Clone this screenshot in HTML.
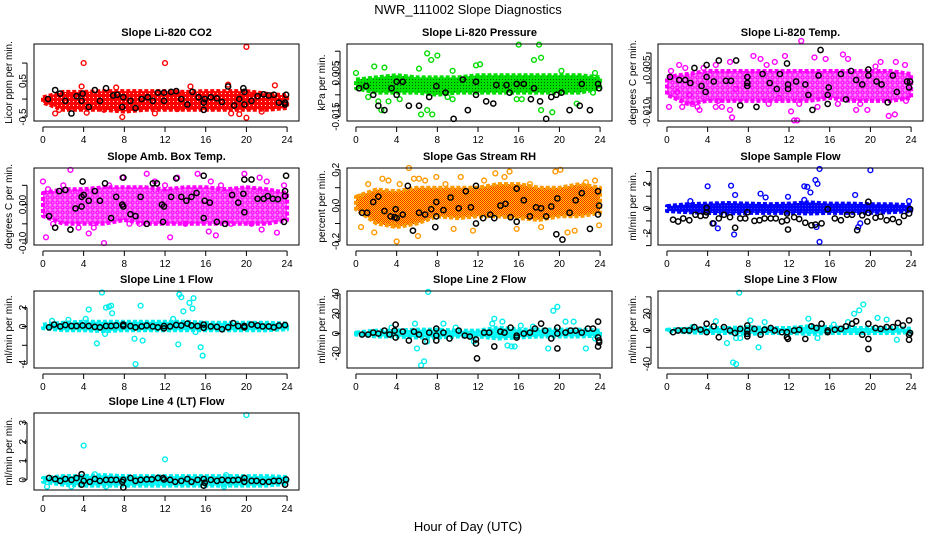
<!DOCTYPE html>
<html><head><meta charset="utf-8"><style>
html,body{margin:0;padding:0;background:#fff}
svg{display:block;font-family:"Liberation Sans",sans-serif}
</style></head><body>
<svg id="chart" width="936" height="540" viewBox="0 0 936 540">
<defs>
<pattern id="pat-red" width="4" height="4" patternUnits="userSpaceOnUse"><rect width="4" height="4" fill="#ff0000"/><rect x="1" y="1" width="1" height="1" fill="#ffffff"/></pattern>
<pattern id="pat-green" width="3" height="3" patternUnits="userSpaceOnUse"><rect width="3" height="3" fill="#00e000"/><rect x="1" y="1" width="1" height="1" fill="#006000"/></pattern>
<pattern id="pat-magenta" width="5" height="5" patternUnits="userSpaceOnUse"><rect width="5" height="5" fill="#ff80ff"/><circle cx="2.5" cy="2.5" r="1.6" fill="none" stroke="#ff00ff" stroke-width="1.2"/></pattern>
<pattern id="pat-rh" width="2" height="2" patternUnits="userSpaceOnUse"><rect width="2" height="2" fill="#ffd700"/><rect width="1" height="1" fill="#ff2000"/><rect x="1" y="1" width="1" height="1" fill="#ff2000"/></pattern>
<pattern id="pat-blue" width="3" height="3" patternUnits="userSpaceOnUse"><rect width="3" height="3" fill="#0000ff"/><rect x="1" y="1" width="1" height="1" fill="#4040ff"/></pattern>
<pattern id="pat-cyan" width="3" height="3" patternUnits="userSpaceOnUse"><rect width="3" height="3" fill="#00ffff"/><rect x="1" y="1" width="1" height="1" fill="#40e0e0"/></pattern>
</defs>
<text x="468" y="14" text-anchor="middle" font-size="13">NWR_111002  Slope Diagnostics</text>
<text x="468" y="531" text-anchor="middle" font-size="13">Hour of Day (UTC)</text>
</svg>
<script>
// ---- data (hour of day on x) ----
const bandHours = [0,2,4,6,8,10,12,14,16,18,20,22,24];
const xTicks = [0,4,8,12,16,20,24];
// Panel 1 CO2
const co2Lo = [-0.1,-0.3,-0.3,-0.3,-0.35,-0.3,-0.3,-0.3,-0.3,-0.3,-0.3,-0.3,-0.25];
const co2Hi = [0.05,0.2,0.2,0.22,0.22,0.22,0.22,0.2,0.22,0.22,0.22,0.15,0.1];
const co2Pts = [[4,1.0],[12,1.0],[20,1.45],[1.2,-0.4],[4.3,-0.38],[7.8,-0.5],[11,-0.4],[18.5,-0.4],[19.3,-0.42],[20,-0.52],[22.8,0.38],[18.2,0.4],[14.5,0.35],[3.8,0.35],[7.2,0.32],[1.6,-0.3],[6,-0.3],[13.2,-0.28],[21.5,-0.35]];
const co2Blk = [[0.5,0],[1.2,0.25],[1.7,0.15],[2.2,-0.05],[2.8,-0.4],[3.3,0.08],[3.9,0.15],[3.8,-0.05],[4.5,-0.22],[5.1,0.25],[5.6,-0.05],[6.2,0.3],[6.9,0.1],[7.3,0.12],[7.9,0.05],[7.8,-0.22],[8.6,-0.05],[9.1,-0.25],[9.7,0],[10.3,0.05],[10.8,-0.05],[11.3,0.18],[11.9,0.18],[11.9,-0.05],[12.6,0.2],[13.1,0.22],[13.6,0],[14.2,-0.15],[14.7,0.2],[15.3,0.05],[15.8,-0.1],[15.8,-0.3],[15.9,0],[16.5,0.05],[17.1,0.02],[17.6,-0.08],[18.2,0.35],[18.8,-0.18],[19.3,0],[19.7,0.3],[19.8,-0.15],[19.8,0.2],[20.5,-0.05],[21.1,0.08],[21.7,0.13],[22.2,0.1],[22.7,0.12],[23.2,-0.1],[23.8,-0.1],[23.9,0.12],[23.8,-0.15]];
// Panel 2 Pressure
const prsLo = [-0.002,-0.004,-0.004,-0.004,-0.005,-0.004,-0.004,-0.004,-0.004,-0.004,-0.004,-0.004,-0.002];
const prsHi = [0.002,0.003,0.004,0.003,0.003,0.003,0.004,0.004,0.004,0.004,0.004,0.004,0.003];
const prsPts = [[0,0.005],[1.8,0.008],[2.8,0.0075],[6.2,0.007],[7,0.014],[7.4,0.011],[8,0.013],[9.5,0.006],[16,0.018],[18,0.018],[17.5,0.011],[18.2,0.012],[20.2,0.006],[23.5,0.005],[11.8,0.0085],[12.2,0.009],[1.2,-0.006],[2.2,-0.008],[2.5,-0.012],[3.2,-0.008],[4.3,-0.007],[6.4,-0.014],[7,-0.012],[7.5,-0.014],[9,-0.006],[9.5,-0.007],[15.8,-0.007],[16.3,-0.007],[18.2,-0.012],[19.3,-0.013],[21.7,-0.009],[23.3,-0.004]];
const prsBlk = [[0.3,-0.002],[1,-0.001],[1.7,-0.005],[2.2,-0.01],[2.8,-0.012],[3.5,-0.002],[4,-0.005],[4,0.001],[4.6,0.001],[5.2,-0.01],[6.2,-0.01],[7.2,-0.006],[7.9,-0.001],[8.8,-0.004],[9.6,-0.016],[10.5,0.002],[11,-0.012],[11.8,0.001],[11.8,-0.005],[12.8,-0.008],[13.5,-0.009],[13.8,-0.0005],[14.8,-0.0005],[15.1,-0.004],[15.8,0],[16.5,0],[17.2,-0.007],[17.5,-0.002],[18.1,-0.008],[18.7,-0.016],[19.2,-0.006],[19.7,-0.005],[20.2,-0.004],[21,-0.012],[22,-0.01],[22.2,0],[23,-0.012],[23.8,0],[23.9,-0.002]];
// Panel 3 Li-820 Temp
const tmpLo = [-0.004,-0.007,-0.006,-0.006,-0.006,-0.006,-0.006,-0.006,-0.005,-0.006,-0.006,-0.006,-0.005];
const tmpHi = [0.002,0.003,0.004,0.004,0.004,0.004,0.004,0.004,0.004,0.004,0.004,0.004,0.003];
const tmpPts = [[0.2,-0.008],[1,-0.003],[1.5,-0.008],[2.5,-0.007],[3,-0.008],[3.2,-0.009],[4.8,-0.008],[5.4,-0.008],[6.4,-0.0115],[6.2,-0.009],[8.5,0.009],[9.2,0.008],[10.6,0.007],[11.6,0.009],[12.5,-0.0125],[12.8,-0.0125],[13.2,0.014],[12.2,-0.0095],[14.5,0.0085],[15.6,0.008],[16.8,-0.007],[17.3,0.0095],[17.8,0.008],[18.6,-0.009],[19.7,-0.009],[21.8,-0.011],[22.4,-0.0105],[22.5,0.007],[23.4,0.006],[1.2,0.006],[1.8,0.005],[3.6,0.005],[4.8,0.006],[6.2,0.007],[9.8,0.006],[21,0.007],[2.2,-0.004],[5,-0.006],[10,-0.007],[13,-0.007],[19,-0.007],[23.5,-0.006],[0.4,0.004],[6.8,-0.002],[11,-0.005],[14.8,-0.008],[20.5,0.0055]];
const tmpBlk = [[0.3,0.002],[1.2,0.001],[1.8,0.001],[2.3,0],[2.7,0.005],[3.4,-0.001],[3.9,0.002],[3.9,0.006],[3.8,-0.003],[4.6,0.0005],[5.1,0.0075],[5.8,0.0007],[6.3,0.0007],[6.8,0.0075],[7.2,-0.0075],[7.9,0],[7.9,0.002],[7.9,-0.001],[8.8,-0.008],[9.4,0.003],[10.1,0],[10.8,-0.002],[11.1,0.003],[11.8,0.0065],[11.9,-0.0005],[11.9,-0.002],[12.7,0.0005],[13.6,-0.0005],[13.9,-0.004],[14.3,-0.009],[14.9,0.0025],[15.1,0.011],[15.8,-0.004],[15.9,-0.0015],[15.8,-0.007],[17.1,0.003],[17.6,-0.0055],[18.1,0.004],[18.6,0.001],[19.2,-0.0005],[19.8,0.0025],[19.8,0.0045],[20.6,0.0005],[21.1,-0.0005],[21.7,-0.0065],[22.2,0.0025],[22.6,-0.003],[23.6,0.0005],[23.8,-0.0015],[23.9,0.0005]];
// Panel 4 Amb box temp
const ambLo = [-0.03,-0.05,-0.05,-0.05,-0.04,-0.05,-0.05,-0.05,-0.05,-0.05,-0.05,-0.05,-0.04];
const ambHi = [0.03,0.04,0.04,0.045,0.045,0.045,0.04,0.045,0.045,0.04,0.045,0.04,0.03];
const ambPts = [[0,0.06],[0.3,-0.085],[0.5,0.04],[2.7,0.09],[4.5,-0.075],[5,-0.06],[6,-0.1],[7.8,0.07],[10.2,0.08],[11,0.06],[12.5,-0.085],[13.2,0.07],[15.2,0.08],[16.3,-0.07],[16.5,0.06],[17,-0.08],[19.8,0.08],[21.3,0.07],[21.5,-0.065],[23,-0.073],[22,0.06],[1,-0.05],[3.5,-0.06],[8.5,-0.05],[9.5,-0.05],[14,-0.05],[18.5,-0.05],[20.5,-0.05],[2,0.05],[6.5,0.05],[12,0.05],[17.5,0.05],[23.7,0.05]];
const ambBlk = [[0.6,-0.03],[1.2,-0.06],[1.6,0.035],[2.2,0.038],[2.7,-0.065],[3.2,-0.01],[3.8,0.02],[3.9,0.06],[3.8,-0.005],[4,0.025],[4.5,0.01],[5.1,0.035],[5.6,0.01],[6.1,0.055],[6.7,-0.035],[7.2,0.02],[7.8,0],[7.9,-0.005],[7.9,0.07],[8.6,-0.025],[9.1,-0.03],[9.6,0.02],[10.2,-0.05],[10.8,0.055],[11.2,0.055],[11.7,0],[11.8,-0.045],[11.9,-0.005],[12.6,0.02],[13.1,0.068],[13.6,0.02],[14.1,0.01],[14.6,0.02],[15.1,0.03],[15.8,0.075],[15.8,-0.035],[15.9,0.01],[16.4,0.005],[17.1,-0.045],[17.9,-0.05],[18.6,0.025],[19.2,0.005],[19.8,0.065],[19.7,0.028],[19.8,-0.02],[20.5,0.065],[21.1,0.015],[21.7,0.015],[22.1,0.022],[22.6,0.015],[23.1,0.014],[23.7,-0.045],[23.8,0.035],[23.9,0.075],[23.8,0.022]];
// Panel 5 Gas stream RH
const rhLo = [-0.02,-0.1,-0.12,-0.1,-0.06,-0.07,-0.06,-0.06,-0.07,-0.08,-0.06,-0.06,-0.04];
const rhHi = [0.05,0.09,0.08,0.1,0.1,0.1,0.1,0.12,0.12,0.1,0.1,0.12,0.1];
const rhPts = [[0.4,0.05],[0.5,-0.12],[1.2,0.12],[1.8,-0.15],[2.6,0.15],[3.2,0.14],[3.7,-0.11],[4,-0.2],[4.3,0.12],[5.2,0.21],[5.7,0.15],[6.1,-0.17],[6.2,0.15],[6.8,0.14],[7.9,0.16],[8.8,0.12],[9.6,-0.13],[10.3,0.16],[11.5,-0.14],[12.6,0.14],[13.7,0.18],[14.6,0.16],[15.1,0.19],[15.8,-0.13],[17.1,0.12],[18.2,-0.12],[19.6,0.19],[20.1,0.2],[20.8,-0.15],[21.5,-0.14],[22.6,0.13],[23.5,0.14],[23.9,-0.11]];
const rhBlk = [[0.6,-0.04],[1.1,-0.04],[1.7,0.02],[2.2,0.05],[2.8,-0.03],[3.4,-0.06],[3.8,-0.065],[3.9,-0.02],[4,-0.07],[4.6,-0.05],[5.1,0.11],[5.6,-0.14],[6.2,-0.04],[6.8,-0.05],[7.4,-0.02],[7.9,-0.06],[7.9,0.02],[7.8,-0.12],[8.6,-0.025],[9.3,0.045],[10.1,-0.015],[10.8,0.08],[11.3,-0.01],[11.8,0.11],[11.8,-0.1],[12.5,-0.07],[13.2,-0.05],[13.6,-0.07],[14.2,0],[14.7,0.01],[15.2,-0.065],[15.8,-0.09],[15.8,0.095],[16.5,0.03],[17.1,-0.06],[17.7,-0.01],[18.2,-0.015],[18.7,-0.06],[19.2,-0.005],[19.7,-0.16],[19.8,0.04],[20.3,-0.19],[21,-0.04],[21.6,0.03],[22.2,0.07],[23,-0.13],[23.8,0.08],[23.9,0],[23.8,-0.05]];
// Panel 6 Sample flow
const sfLo = [-0.2,-0.3,-0.35,-0.4,-0.35,-0.35,-0.35,-0.4,-0.35,-0.35,-0.35,-0.3,-0.2];
const sfHi = [0.2,0.35,0.4,0.45,0.4,0.35,0.4,0.5,0.4,0.4,0.35,0.35,0.25];
const sfPts = [[4,1.8],[6.3,1.85],[6.7,1.1],[9.2,1.2],[9.7,0.9],[11.9,0.95],[13.5,1.8],[13.8,1.75],[14.1,1.3],[14.6,2.3],[14.8,2.0],[15,3.2],[20,3.1],[18.5,1.1],[4.6,-1.2],[5,-1.6],[6.6,-2.1],[14.7,-1.5],[15,-2.7],[18.8,-1.5],[19,-1.2],[13.5,0.7],[23.8,0.6],[2.3,0.6]];
const sfBlk = [[0.6,-0.9],[1.1,-1.05],[1.6,-0.8],[2.2,-0.95],[2.8,-0.5],[3.3,-0.6],[3.8,-0.55],[3.9,-0.3],[3.9,0.05],[4.5,-1.2],[5.1,-0.8],[5.6,-0.5],[6.2,-0.7],[6.7,-1.55],[7.2,-0.8],[7.7,-0.8],[7.9,-0.3],[8.6,-1.0],[9.1,-0.95],[9.6,-0.8],[10.2,-0.8],[10.7,-0.8],[11.3,-1.05],[11.8,-0.95],[11.8,-0.4],[11.9,-1.7],[12.5,-0.7],[13,-0.85],[13.6,-1.15],[14.2,-1.35],[14.6,-1.3],[15.2,-1.2],[15.8,-0.05],[16.5,-0.8],[17.1,-0.95],[17.7,-0.5],[18.2,-0.5],[18.7,-1.75],[19.2,-0.55],[19.7,-1.05],[19.8,0.55],[19.8,-0.35],[20.5,-0.75],[21,-0.65],[21.6,-0.95],[22.2,-0.85],[22.8,-1.1],[23.3,-0.6],[23.8,-0.4],[23.9,-0.05]];
// Panel 7 Line 1 flow
const l1Lo = [-0.2,-0.4,-0.4,-0.5,-0.4,-0.4,-0.4,-0.4,-0.4,-0.4,-0.4,-0.4,-0.3];
const l1Hi = [0.2,0.4,0.5,0.5,0.5,0.5,0.5,0.5,0.4,0.4,0.4,0.4,0.3];
const l1Pts = [[4.5,1.8],[5.8,3.6],[6.2,2.0],[6.5,2.1],[6.7,2.2],[6.8,1.4],[9.6,2.2],[13.4,3.4],[13.6,3.1],[13.8,1.6],[14.4,2.5],[14.8,3.0],[14.7,1.9],[5.3,-1.8],[9,-1.3],[9.8,-1.5],[9.1,-4.0],[13.3,-1.9],[15.5,-2.2],[15.7,-3.1],[0.9,0.6],[2.5,0.7],[4.2,0.8],[12.8,0.8],[15,-0.6],[6.1,-0.8]];
const l1Blk = [[0.6,-0.1],[1.1,0.2],[1.7,0],[2.2,0.15],[2.8,0.05],[3.3,0.05],[3.9,0.1],[4.5,0.05],[5.1,-0.05],[5.6,-0.1],[6.2,0.05],[6.7,0.05],[7.2,0.1],[7.9,0.05],[7.9,0.2],[8.6,0.05],[9.1,-0.1],[9.7,0],[10.2,0.1],[10.8,0],[11.3,-0.1],[11.9,0.05],[11.9,-0.2],[12.5,0],[13.1,0.15],[13.6,0.1],[14.2,0.3],[14.6,0.1],[15.2,0.05],[15.8,0.2],[15.8,-0.15],[16.5,0],[17.1,-0.05],[17.6,-0.3],[18.2,-0.1],[18.7,0.35],[19.2,0.05],[19.8,0.05],[19.8,-0.1],[20.5,0.2],[21.1,0.1],[21.6,0],[22.2,0],[22.7,-0.1],[23.2,0.1],[23.8,0.15]];
// Panel 8 Line 2 flow
const l2Lo = [-1,-3,-3,-4,-4,-3,-3,-5,-4,-3,-3,-3,-2];
const l2Hi = [1,3,3,4,4,3,3,6,4,4,4,4,3];
const l2Pts = [[7.1,42],[6.4,-32],[6.7,-28],[6,-15],[7,-8],[8.6,10],[13.6,15],[13.4,10],[14.4,12],[14.9,-12],[15.3,-13],[15.6,-13],[18.9,-15],[19.4,23],[19.8,27],[20.6,12],[21.4,12],[22.6,-15],[16.2,8],[17.4,7],[5.8,10],[3.5,6],[9.8,6],[11.6,-8],[23.5,-5]];
const l2Blk = [[0.6,-1],[1.2,-1],[1.7,1],[2.2,0],[2.8,3],[3.3,-1],[3.9,9],[3.9,-4],[3.8,3],[4.6,2],[5.2,-7],[5.7,2],[6.2,-1],[6.8,-8],[7.2,1],[7.9,-7],[7.9,5],[7.9,-2],[8.6,1],[9.2,-5],[10.1,3],[10.7,-2],[11.2,-3],[11.8,-10],[11.8,-6],[11.9,-25],[12.6,1],[13.1,1],[13.6,-13],[14.2,2],[14.6,1],[15.2,6],[15.8,-2],[15.8,-4],[16.5,0],[17.1,1],[17.6,5],[18.2,10],[18.6,3],[19.2,-5],[19.8,-15],[19.8,6],[19.8,0],[20.6,1],[21.1,3],[21.6,3],[22.2,1],[22.8,5],[23.3,5],[23.8,12],[23.8,-4],[23.9,-7],[23.8,-13],[23.9,-9]];
// Panel 9 Line 3 flow
const l3Lo = [-1,-2,-3,-3,-4,-3,-3,-4,-3,-3,-3,-3,-2];
const l3Hi = [1,2,3,3,4,3,3,5,4,3,3,3,2];
const l3Pts = [[7.1,45],[6.5,-38],[6.8,-40],[5.9,-15],[6.8,-9],[7.2,-9],[8.2,12],[9,-20],[9.6,10],[4.8,11],[13.9,14],[14.8,-9],[17.8,10],[18.4,20],[18.9,24],[19.3,31],[20.7,15],[21.6,13],[22.6,-11],[16.4,7],[11.7,-3],[2.5,4]];
const l3Blk = [[0.6,-2],[1.1,0],[1.7,0],[2.2,0],[2.7,4],[3.3,1],[3.9,8],[3.9,-2],[4.6,5],[5.1,-8],[5.6,4],[6.2,0],[6.7,-3],[7.2,2],[7.9,-7],[7.9,6],[7.9,-4],[7.9,0],[8.6,2],[9.2,-5],[9.6,1],[10.2,3],[10.6,0],[11.3,-2],[11.8,-2],[11.8,-8],[11.9,-10],[12.5,0],[13,1],[13.6,-10],[14.2,5],[14.7,3],[15.2,8],[15.8,0],[15.8,-2],[16.5,1],[17.1,2],[17.6,5],[18.2,8],[18.6,11],[19.2,-5],[19.8,-22],[19.8,8],[19.8,-10],[20.5,3],[21,2],[21.6,4],[22.2,4],[22.7,9],[23.2,6],[23.8,12],[23.8,-5],[23.9,-3],[23.8,-11]];
// Panel 10 Line 4 (LT) flow
const l4Lo = [-0.1,-0.25,-0.3,-0.3,-0.3,-0.3,-0.3,-0.3,-0.3,-0.3,-0.3,-0.3,-0.2];
const l4Hi = [0.1,0.2,0.2,0.25,0.2,0.2,0.2,0.2,0.2,0.2,0.2,0.2,0.15];
const l4Pts = [[4,1.8],[12,1.08],[20,3.4],[18,0.25],[5.1,0.3],[0.4,-0.35],[2.8,-0.35],[6.2,-0.35],[17.8,-0.35]];
const l4Blk = [[0.6,0.1],[1.2,0.05],[1.7,-0.05],[2.2,0.05],[2.8,0],[3.3,0.1],[3.8,0.3],[3.8,-0.25],[4,-0.05],[4.6,-0.1],[5.1,0.05],[5.6,-0.05],[6.2,0],[6.7,0],[7.2,0],[7.8,-0.1],[7.9,-0.4],[7.9,0],[8.6,0.1],[9.1,-0.05],[9.6,0],[10.2,0.03],[10.7,0.03],[11.3,0.1],[11.8,0.1],[11.9,0.02],[12.5,0],[13,-0.1],[13.6,-0.05],[14.2,0.05],[14.6,-0.1],[15.2,0],[15.8,0.05],[15.8,-0.3],[15.9,-0.15],[16.5,0],[17.1,-0.05],[17.6,0],[18.2,-0.02],[18.7,-0.02],[19.2,0],[19.8,0.1],[19.8,-0.1],[20.5,-0.05],[21,-0.05],[21.6,-0.1],[22.2,-0.1],[22.7,-0.05],[23.2,-0.05],[23.8,-0.25],[23.9,0.02]];

// ---- layout ----
const svg = document.getElementById('chart');
const NS = 'http://www.w3.org/2000/svg';
const colX = [34, 347, 658];
const rowY = [44, 168, 291, 413];
const boxW = 265, boxH = 77;
const xMin = -0.88, xMax = 25.17;

const panels = [
 {title:'Slope Li-820 CO2', ylab:'Licor ppm per min.', c:0, r:0, dmax:1.53, dmin:-0.61, ticks:[-0.5,0,0.5,1.0], labs:{'0.5':'0.5','-0.5':'-0.5'}, lo:co2Lo, hi:co2Hi, pts:co2Pts, blk:co2Blk, col:'#ff0000', fill:'url(#pat-red)'},
 {title:'Slope Li-820 Pressure', ylab:'kPa per min.', c:1, r:0, dmax:0.0183, dmin:-0.017, ticks:[-0.015,-0.01,-0.005,0,0.005,0.01,0.015], labs:{'0.005':'0.005','-0.015':'-0.015'}, lo:prsLo, hi:prsHi, pts:prsPts, blk:prsBlk, col:'#00dd00', fill:'url(#pat-green)'},
 {title:'Slope Li-820 Temp.', ylab:'degrees C per min.', c:2, r:0, dmax:0.013, dmin:-0.0127, ticks:[-0.01,-0.005,0,0.005,0.01], labs:{'0.005':'0.005','-0.01':'-0.010'}, lo:tmpLo, hi:tmpHi, pts:tmpPts, blk:tmpBlk, col:'#ff00ff', fill:'url(#pat-magenta)'},
 {title:'Slope Amb. Box Temp.', ylab:'degrees C per min.', c:0, r:1, dmax:0.095, dmin:-0.105, ticks:[-0.1,-0.05,0,0.05], labs:{'0':'0.00','-0.1':'-0.10'}, lo:ambLo, hi:ambHi, pts:ambPts, blk:ambBlk, col:'#ff00ff', fill:'url(#pat-magenta)'},
 {title:'Slope Gas Stream RH', ylab:'percent per min.', c:1, r:1, dmax:0.21, dmin:-0.22, ticks:[-0.2,-0.1,0,0.1,0.2], labs:{'0.2':'0.2','0':'0.0','-0.2':'-0.2'}, lo:rhLo, hi:rhHi, pts:rhPts, blk:rhBlk, col:'#ff9900', fill:'url(#pat-rh)'},
 {title:'Slope Sample Flow', ylab:'ml/min per min.', c:2, r:1, dmax:3.28, dmin:-2.95, ticks:[-3,-2,-1,0,1,2,3], labs:{'2':'2','0':'0','-2':'-2'}, lo:sfLo, hi:sfHi, pts:sfPts, blk:sfBlk, col:'#0000ff', fill:'url(#pat-blue)'},
 {title:'Slope Line 1 Flow', ylab:'ml/min per min.', c:0, r:2, dmax:3.76, dmin:-4.41, ticks:[-4,-2,0,2], labs:{'2':'2','0':'0','-4':'-4'}, lo:l1Lo, hi:l1Hi, pts:l1Pts, blk:l1Blk, col:'#00eeee', fill:'url(#pat-cyan)'},
 {title:'Slope Line 2 Flow', ylab:'ml/min per min.', c:1, r:2, dmax:42.9, dmin:-34.7, ticks:[-20,0,20,40], labs:{'40':'40','20':'20','0':'0','-20':'-20'}, lo:l2Lo, hi:l2Hi, pts:l2Pts, blk:l2Blk, col:'#00eeee', fill:'url(#pat-cyan)'},
 {title:'Slope Line 3 Flow', ylab:'ml/min per min.', c:2, r:2, dmax:47, dmin:-44.6, ticks:[-40,-20,0,20,40], labs:{'20':'20','0':'0','-40':'-40'}, lo:l3Lo, hi:l3Hi, pts:l3Pts, blk:l3Blk, col:'#00eeee', fill:'url(#pat-cyan)'},
 {title:'Slope Line 4 (LT) Flow', ylab:'ml/min per min.', c:0, r:3, dmax:3.51, dmin:-0.53, ticks:[0,1,2,3], labs:{'3':'3','2':'2','1':'1','0':'0'}, lo:l4Lo, hi:l4Hi, pts:l4Pts, blk:l4Blk, col:'#00eeee', fill:'url(#pat-cyan)'}
];

function mk(tag, attrs, parent){
  const e = document.createElementNS(NS, tag);
  for (const k in attrs) e.setAttribute(k, attrs[k]);
  (parent || svg).appendChild(e);
  return e;
}

panels.forEach((p, i) => {
  const L = colX[p.c], T = rowY[p.r];
  const xs = h => L + (h - xMin) / (xMax - xMin) * boxW;
  const ys = v => T + (p.dmax - v) / (p.dmax - p.dmin) * boxH;
  const g = mk('g', {});
  
  

  const title = mk('text', {x: L + boxW / 2, y: T - 8, 'text-anchor': 'middle', 'font-size': 11, 'font-weight': 'bold'}, g);
  title.textContent = p.title;
  
  

  // band
  let d = '';
  bandHours.forEach((h, k) => { d += (k ? 'L' : 'M') + xs(h).toFixed(1) + ',' + ys(p.hi[k]).toFixed(1); });
  for (let k = bandHours.length - 1; k >= 0; k--) d += 'L' + xs(bandHours[k]).toFixed(1) + ',' + ys(p.lo[k]).toFixed(1);
  const band = mk('path', {d: d + 'Z', fill: p.fill, stroke: p.col, 'stroke-width': 4, 'stroke-dasharray': '4 2', 'stroke-linejoin': 'round'}, g);
  
  

  p.pts.forEach(pt => {
    const c = mk('circle', {cx: xs(pt[0]), cy: ys(pt[1]), r: 2.4, fill: 'none', stroke: p.col, 'stroke-width': 1.4}, g);
    
    
  });
  p.blk.forEach(pt => {
    const c = mk('circle', {cx: xs(pt[0]), cy: ys(pt[1]), r: 2.6, fill: 'none', stroke: '#000', 'stroke-width': 1.5}, g);
    
    
  });

  const box = mk('rect', {x: L, y: T, width: boxW, height: boxH, fill: 'none', stroke: '#000', 'stroke-width': 1}, g);
  
  

  // x axis
  const ay = T + boxH + 6;
  const xl = mk('line', {x1: xs(0), x2: xs(24), y1: ay, y2: ay, stroke: '#000'}, g);
  
  
  xTicks.forEach(t => {
    mk('line', {x1: xs(t), x2: xs(t), y1: ay, y2: ay + 5, stroke: '#000'}, g);
    const tl = mk('text', {x: xs(t), y: ay + 16, 'text-anchor': 'middle', 'font-size': 10}, g);
    tl.textContent = t;
    
    
  });

  // y axis
  const ax = L - 7;
  const tv = p.ticks;
  const yl = mk('line', {x1: ax, x2: ax, y1: ys(tv[0]), y2: ys(tv[tv.length - 1]), stroke: '#000'}, g);
  
  
  tv.forEach(t => {
    mk('line', {x1: ax - 5, x2: ax, y1: ys(t), y2: ys(t), stroke: '#000'}, g);
    const key = String(t);
    if (p.labs[key] !== undefined) {
      const tl = mk('text', {x: 0, y: 0, 'text-anchor': 'middle', 'font-size': 10, transform: 'translate(' + (ax - 1) + ',' + ys(t) + ') rotate(-90)'}, g);
      tl.textContent = p.labs[key];
      
      
    }
  });
  const yt = mk('text', {x: 0, y: 0, 'text-anchor': 'middle', 'font-size': 10, transform: 'translate(' + (L - 22) + ',' + (T + boxH / 2) + ') rotate(-90)'}, g);
  yt.textContent = p.ylab;
  
  
});
</script>
</body></html>
